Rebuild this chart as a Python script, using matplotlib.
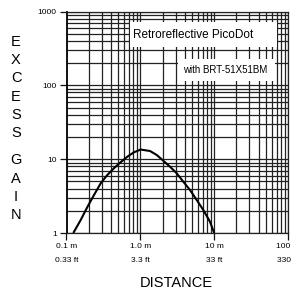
import matplotlib
matplotlib.use('Agg')
import matplotlib.pyplot as plt
from matplotlib.patches import Rectangle
from matplotlib.ticker import LogLocator, NullFormatter

# Excess gain curve
distance_m = [0.1236, 0.1557, 0.1913, 0.2358, 0.2905, 0.357, 0.4398, 0.542, 0.666,
              0.821, 1.01, 1.352, 1.666, 2.047, 2.52, 3.11, 3.82, 4.71, 5.80,
              7.13, 8.78, 10.0]
excess_gain = [1.0, 1.50, 2.24, 3.27, 4.71, 6.10, 7.55, 9.1, 10.8,
               12.4, 13.5, 12.9, 11.4, 9.53, 7.91, 6.44, 4.95, 3.82, 2.80,
               2.05, 1.42, 1.0]

x_ticks = [0.1, 1.0, 10, 100]
x_labels = ['0.1 m\n0.33 ft', '1.0 m\n3.3 ft', '10 m\n33 ft', '100 m\n330 ft']
y_ticks = [1, 10, 100, 1000]
y_labels = ['1', '10', '100', '1000']

plt.rcParams['font.family'] = ['Liberation Sans Narrow', 'Liberation Sans', 'DejaVu Sans']

fig = plt.figure(figsize=(2.93, 2.93), dpi=100)
ax = fig.add_axes([66.5 / 293, 60 / 293, 221.5 / 293, 221.5 / 293])

ax.set_xscale('log')
ax.set_yscale('log')
ax.set_xlim(0.1, 100)
ax.set_ylim(1, 1000)

# Grid on every decade and sub-decade
ax.xaxis.set_minor_locator(LogLocator(base=10, subs=range(2, 10)))
ax.yaxis.set_minor_locator(LogLocator(base=10, subs=range(2, 10)))
ax.xaxis.set_minor_formatter(NullFormatter())
ax.yaxis.set_minor_formatter(NullFormatter())
ax.grid(True, which='both', color='#222222', linewidth=0.9)
ax.tick_params(which='minor', length=0)
ax.tick_params(which='major', length=5, width=0.9, color='#111111', labelsize=6, pad=2)

for s in ax.spines.values():
    s.set_color('#222222')
    s.set_linewidth(0.9)
ax.spines['left'].set_color('black')
ax.spines['left'].set_linewidth(1.3)

ax.set_xticks(x_ticks)
ax.set_xticklabels(x_labels, linespacing=2.4)
ax.set_yticks(y_ticks)
ax.set_yticklabels(y_labels)

# Curve
ax.plot(distance_m, excess_gain, color='black', linewidth=1.5, zorder=5,
        solid_capstyle='butt')

# White label boxes covering the grid
ax.add_patch(Rectangle((0.2867, 0.8397), 0.6633, 0.1129, transform=ax.transAxes,
                       facecolor='white', edgecolor='none', zorder=6))
ax.add_patch(Rectangle((0.503, 0.686), 0.4383, 0.0996, transform=ax.transAxes,
                       facecolor='white', edgecolor='none', zorder=6))
ax.text(0.300, 0.894, 'Retroreflective PicoDot', transform=ax.transAxes,
        ha='left', va='center', fontsize=8.5, zorder=7)
ax.text(0.526, 0.738, 'with BRT-51X51BM', transform=ax.transAxes,
        ha='left', va='center', fontsize=7, zorder=7)

# Axis titles
fig.text(176 / 293, 1 - 283 / 293, 'DISTANCE', ha='center', va='center', fontsize=10.5)
letters = 'EXCESS GAIN'
for i, ch in enumerate(letters):
    if ch == ' ':
        continue
    y = 42 + i * 18.2 - (9 if i > 6 else 0)
    fig.text(16 / 293, 1 - y / 293, ch, ha='center', va='center', fontsize=10.5)

plt.savefig('out.png', dpi=100)
